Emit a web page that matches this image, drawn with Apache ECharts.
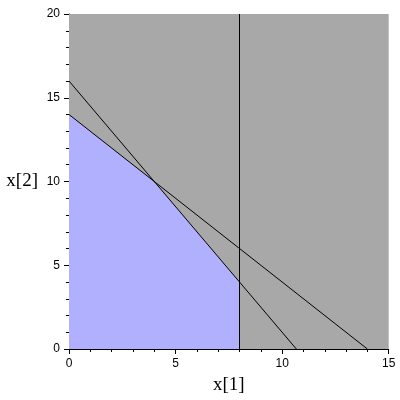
<!DOCTYPE html>
<html><head><meta charset="utf-8">
<script src="https://cdn.jsdelivr.net/npm/echarts@6/dist/echarts.min.js"></script>
<style>html,body{margin:0;padding:0;background:#fff}#c{width:400px;height:400px}</style>
</head><body><div id="c"></div>
<script>
const xRange = [0, 15];
const yRange = [0, 20];
const xTicks = [0, 5, 10, 15];
const yTicks = [0, 5, 10, 15, 20];
// feasible region upper boundary (filled down to x[2]=0)
const feasible = [[0, 14], [4, 10], [8, 4], [8, 0]];
// constraint lines
const line1 = [[0, 16], [32 / 3, 0]];   // 3x1 + 2x2 = 32
const line2 = [[0, 14], [14, 0]];       // x1 + x2 = 14
const line3 = [[8, 0], [8, 20]];        // x1 = 8

const chart = echarts.init(document.getElementById('c'), null, {renderer: 'canvas'});
const lineSeries = (d) => ({
  type: 'line', data: d, symbol: 'none', silent: true, z: 5,
  lineStyle: {color: '#000', width: 1}
});
chart.setOption({
  animation: false,
  backgroundColor: '#fff',
  grid: {left: 69, right: 11.3, top: 14, bottom: 49},
  xAxis: {
    type: 'value', min: xRange[0], max: xRange[1], interval: 5,
    name: 'x[1]', nameLocation: 'middle', nameGap: 27,
    nameTextStyle: {fontFamily: 'Liberation Serif', fontSize: 19, color: '#000'},
    axisLine: {show: true, onZero: false, lineStyle: {color: '#000', width: 1}},
    axisTick: {show: true, length: 5, inside: false, lineStyle: {color: '#000'}},
    minorTick: {show: true, splitNumber: 5, length: 3, lineStyle: {color: '#000'}},
    axisLabel: {color: '#000', fontFamily: 'Liberation Sans', fontSize: 12, margin: 9,
      formatter: v => xTicks.includes(v) ? String(v) : ''},
    splitLine: {show: false}
  },
  yAxis: {
    type: 'value', min: yRange[0], max: yRange[1], interval: 5,
    name: 'x[2]', nameLocation: 'middle', nameGap: 31, nameRotate: 0,
    nameTextStyle: {fontFamily: 'Liberation Serif', fontSize: 19, color: '#000', padding: [5, 0, 0, 0]},
    axisLine: {show: true, onZero: false, lineStyle: {color: '#000', width: 1}},
    axisTick: {show: true, length: 5, lineStyle: {color: '#000'}},
    minorTick: {show: true, splitNumber: 5, length: 3, lineStyle: {color: '#000'}},
    axisLabel: {color: '#000', fontFamily: 'Liberation Sans', fontSize: 12, margin: 9,
      formatter: v => yTicks.includes(v) ? String(v) : ''},
    splitLine: {show: false}
  },
  series: [
    {
      type: 'line', data: [], silent: true, z: 1,
      markArea: {silent: true, itemStyle: {color: '#a8a8a8'},
        data: [[{coord: [xRange[0], yRange[0]]}, {coord: [xRange[1], yRange[1]]}]]}
    },
    {
      type: 'line', data: feasible, symbol: 'none', silent: true, z: 2,
      lineStyle: {width: 0}, areaStyle: {color: '#b0b0ff', opacity: 1}
    },
    lineSeries(line1),
    lineSeries(line2),
    lineSeries(line3)
  ]
});
</script></body></html>
